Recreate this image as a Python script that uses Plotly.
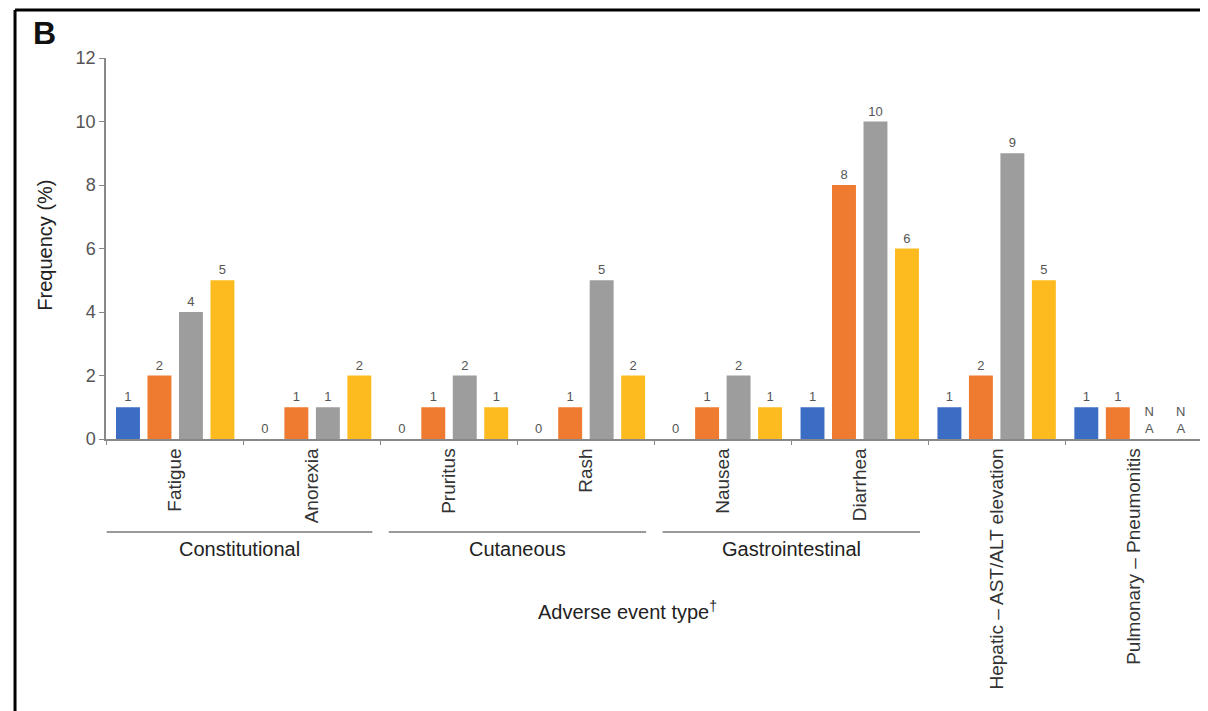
import plotly.graph_objects as go

categories = ["Fatigue", "Anorexia", "Pruritus", "Rash", "Nausea", "Diarrhea",
              "Hepatic – AST/ALT elevation", "Pulmonary – Pneumonitis"]
series_a = [1, 0, 0, 0, 0, 1, 1, 1]
series_b = [2, 1, 1, 1, 1, 8, 2, 1]
series_c = [4, 1, 2, 5, 2, 10, 9, None]
series_d = [5, 2, 1, 2, 1, 6, 5, None]
colors = ["#3B6DC4", "#EE7B30", "#9D9D9D", "#FDBB1F"]
groups = [("Constitutional", 0, 1), ("Cutaneous", 2, 3), ("Gastrointestinal", 4, 5)]
y_ticks = [0, 2, 4, 6, 8, 10, 12]

FONT = "Liberation Sans, Arial, sans-serif"

fig = go.Figure()
for vals, col in zip([series_a, series_b, series_c, series_d], colors):
    ys = [v if v is not None else 0 for v in vals]
    txt = [str(v) if v is not None else "N<br>A" for v in vals]
    fig.add_trace(go.Bar(
        x=categories, y=ys, text=txt, textposition="outside",
        marker=dict(color=col, line=dict(width=0)),
        textfont=dict(size=13, color="#555555", family=FONT),
        constraintext="none", cliponaxis=False, showlegend=False,
    ))

shapes = []
annotations = []
for name, a, b in groups:
    x0 = a - 0.5 + (0.0 if a == 0 else 0.06)
    x1 = b + 0.44
    shapes.append(dict(type="line", xref="x", yref="paper", x0=x0, x1=x1,
                       y0=-0.244, y1=-0.244, line=dict(color="#777777", width=1.5)))
    annotations.append(dict(text=name, xref="x", yref="paper", x=(x0 + x1) / 2,
                            y=-0.289, showarrow=False, xanchor="center", yanchor="middle",
                            font=dict(size=20, color="#222222", family=FONT)))

annotations.append(dict(text="Adverse event type<sup>†</sup>", xref="paper", yref="paper",
                        x=0.476, y=-0.449, showarrow=False, xanchor="center", yanchor="middle",
                        font=dict(size=20, color="#222222", family=FONT)))
annotations.append(dict(text="Frequency (%)", xref="paper", yref="paper",
                        x=-0.0557, y=0.51, showarrow=False, textangle=-90,
                        xanchor="center", yanchor="middle",
                        font=dict(size=20, color="#222222", family=FONT)))
annotations.append(dict(text="<b>B</b>", xref="paper", yref="paper",
                        x=-0.068, y=1.118, showarrow=False, xanchor="left", yanchor="top",
                        font=dict(size=32, color="#111111", family=FONT)))

# partial frame (top and left border)
shapes.append(dict(type="line", xref="paper", yref="paper", x0=-0.083, x1=1.02,
                   y0=1.126, y1=1.126, line=dict(color="#000000", width=3)))
shapes.append(dict(type="line", xref="paper", yref="paper", x0=-0.083, x1=-0.083,
                   y0=1.126, y1=-0.75, line=dict(color="#000000", width=3)))

# the page adds an 8px body margin, so the figure is 8px smaller and shifted
fig.update_layout(
    width=1200, height=703,
    margin=dict(l=98, r=6, t=50, b=272),
    paper_bgcolor="white", plot_bgcolor="white",
    barmode="group", bargap=0.08, bargroupgap=0.24,
    font=dict(family=FONT),
    shapes=shapes, annotations=annotations,
    xaxis=dict(type="category", tickangle=-90, tickson="boundaries",
               ticks="outside", ticklen=4, tickcolor="#888888",
               showline=True, linecolor="#888888", linewidth=1.5,
               showgrid=False, tickfont=dict(size=19, color="#333333", family=FONT)),
    yaxis=dict(range=[0, 12], tickvals=y_ticks, ticks="outside", ticklen=5,
               tickcolor="#888888", showline=True, linecolor="#888888", linewidth=1.5,
               showgrid=False, zeroline=False,
               tickfont=dict(size=18, color="#555555", family=FONT)),
)

fig.write_html("out.html")
